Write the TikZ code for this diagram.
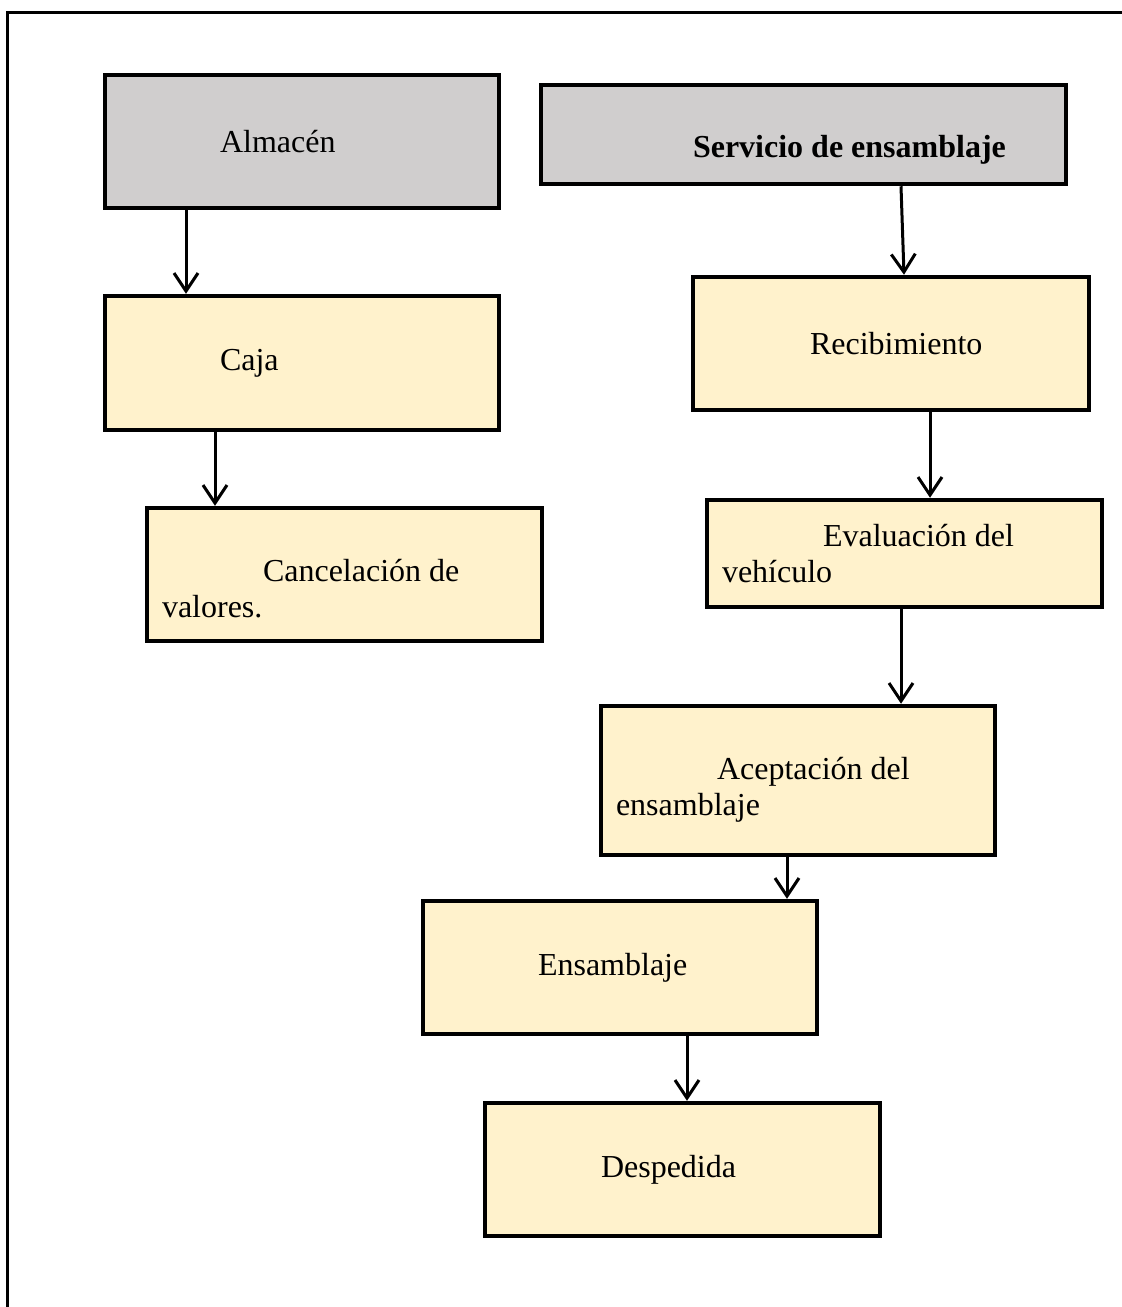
\documentclass[tikz,border=0pt]{standalone}
\usepackage{fontspec}
\setmainfont{Liberation Serif}
\usepackage{tikz}
\usetikzlibrary{arrows.meta,positioning}
\usepackage{xcolor}
\definecolor{grisbox}{HTML}{D0CECE}
\definecolor{cremabox}{HTML}{FFF2CC}
\newcommand{\sangria}[1]{\hspace*{#1pt}}
\tikzset{
  caja/.style={draw,line width=4.5pt,inner xsep=15pt,inner ysep=0pt,
    align=flush left,font=\fontsize{32}{36}\selectfont},
  cabecera/.style={caja,fill=grisbox},
  paso/.style={caja,fill=cremabox},
}

\begin{document}
\begin{tikzpicture}[
  x=1pt,y=-1pt,
  ->,>={Straight Barb[length=18pt,width=24pt]},
  line width=3pt
]
\useasboundingbox (0,0) rectangle (1122,1307);

% marco
\draw[-] (7,1307) -- (7,12) -- (1122,12);

\node[cabecera,text width=364,minimum height=133] (alm) at (302,141.5) {\sangria{100}Almacén};
\node[cabecera,text width=495,minimum height=99,text height=45,text depth=0] (serv) at (803.5,134.5) {\sangria{137}\textbf{Servicio de ensamblaje}};

\node[paso,text width=364,minimum height=134] (caja) at (302,363) {\sangria{100}Caja};
\node[paso,text width=365,minimum height=133,text height=49,text depth=36] (canc) at (344.5,574.5) {\sangria{101}Cancelación de\\valores.};

\node[paso,text width=366,minimum height=133] (reci) at (891,343.5) {\sangria{102}Recibimiento};
\node[paso,text width=365,minimum height=107] (eval) at (904.5,553.5) {\sangria{101}Evaluación del\\vehículo};
\node[paso,text width=364,minimum height=149,text height=33,text depth=36] (acep) at (798,780.5) {\sangria{101}Aceptación del\\ensamblaje};
\node[paso,text width=364,minimum height=133] (ensa) at (620,967.5) {\sangria{100}Ensamblaje};
\node[paso,text width=365,minimum height=133] (desp) at (682.5,1169.5) {\sangria{101}Despedida};

\path
(alm.south -| 186,0) edge (caja.north -| 186,0)
(caja.south -| 215,0) edge (canc.north -| 215,0)

(serv.south -| 901,0) edge (reci.north -| 904,0)
(reci.south -| 930,0) edge (eval.north -| 930,0)
(eval.south -| 901,0) edge (acep.north -| 901,0)
(acep.south -| 787,0) edge (ensa.north -| 787,0)
(ensa.south -| 687,0) edge (desp.north -| 687,0);

\end{tikzpicture}
\end{document}
